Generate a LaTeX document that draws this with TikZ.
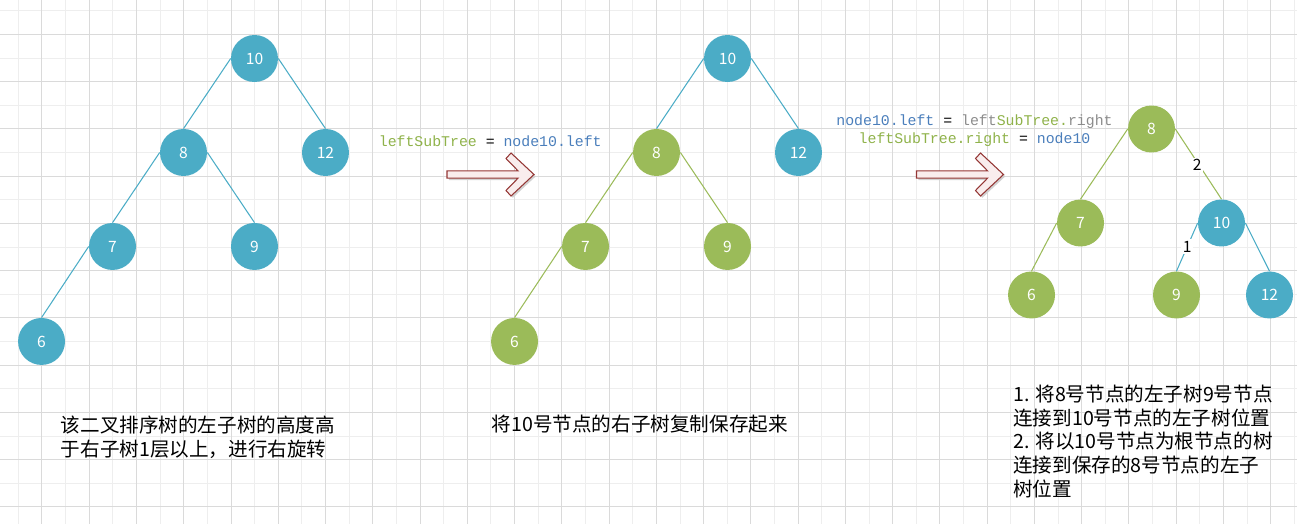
\documentclass[tikz,border=0pt]{standalone}
\usepackage{fontspec}
\setmainfont{Liberation Serif}
\newfontfamily\cjk{Noto Sans CJK SC}
\newfontfamily\codefont{Liberation Mono}
\usetikzlibrary{positioning}

\definecolor{nodeblue}{HTML}{4BACC6}
\definecolor{nodegreen}{HTML}{9BBB59}
\definecolor{codegreen}{HTML}{8FB24A}
\definecolor{codeblue}{HTML}{4A7EBB}
\definecolor{codegray}{HTML}{8C8C8C}
\definecolor{gridminor}{HTML}{EEEEEE}
\definecolor{gridmajor}{HTML}{DADADA}
\definecolor{arrowline}{HTML}{943634}
\definecolor{arrowfill}{HTML}{F9EDED}

\begin{document}
\begin{tikzpicture}[
		x=0.02cm, y=-0.02cm,
		on grid,
		treenode/.style={
			circle,
			minimum size=0.94cm,
			inner sep=0pt,
			text=white,
			font=\cjk\fontsize{8.9}{10}\selectfont
		},
		bnode/.style={treenode, fill=nodeblue},
		gnode/.style={treenode, fill=nodegreen},
		bline/.style={draw=nodeblue, line width=0.6pt},
		gline/.style={draw=nodegreen, line width=0.6pt},
		code/.style={inner sep=0pt, font=\codefont\fontsize{8.45}{10.4}\selectfont},
		note/.style={inner sep=0pt, align=left, font=\cjk\fontsize{11.15}{13.4}\selectfont},
		lbl/.style={inner sep=1pt, fill=white, font=\cjk\fontsize{8.9}{10}\selectfont},
		blockarrow/.style={draw=arrowline, fill=arrowfill, line width=0.6pt, line join=miter}
		]
		
		\useasboundingbox (0,0) rectangle (1297,524);
		
		%--------------------------------------------------
		% Grid
		%--------------------------------------------------
		
		\foreach \k in {0,2,...,54}
			\draw[gridminor, line width=0.5pt] ({18.3+23.63*\k},0) -- ({18.3+23.63*\k},524);
		\foreach \k in {0,2,...,20}
			\draw[gridminor, line width=0.5pt] (0,{10.7+23.63*\k}) -- (1297,{10.7+23.63*\k});
		\foreach \k in {1,3,...,53}
			\draw[gridmajor, line width=0.5pt] ({18.3+23.63*\k},0) -- ({18.3+23.63*\k},524);
		\foreach \k in {1,3,...,21}
			\draw[gridmajor, line width=0.5pt] (0,{10.7+23.63*\k}) -- (1297,{10.7+23.63*\k});
		
		%--------------------------------------------------
		% Tree 1
		%--------------------------------------------------
		
		\node[bnode] (a10) at (254.5,58.5) {10};
		\node[bnode] (a8) [below left=1.88cm and 1.42cm of a10] {8};
		\node[bnode] (a12) [below right=1.88cm and 1.42cm of a10] {12};
		\node[bnode] (a7) [below left=1.88cm and 1.42cm of a8] {7};
		\node[bnode] (a9) [below right=1.88cm and 1.42cm of a8] {9};
		\node[bnode] (a6) [below left=1.9cm and 1.42cm of a7] {6};
		
		\draw[bline] (a10.west) -- (a8.north);
		\draw[bline] (a10.east) -- (a12.north);
		\draw[bline] (a8.west) -- (a7.north);
		\draw[bline] (a8.east) -- (a9.north);
		\draw[bline] (a7.west) -- (a6.north);
		
		%--------------------------------------------------
		% Tree 2
		%--------------------------------------------------
		
		\node[bnode] (b10) at (727.5,58.5) {10};
		\node[gnode] (b8) [below left=1.88cm and 1.42cm of b10] {8};
		\node[bnode] (b12) [below right=1.88cm and 1.42cm of b10] {12};
		\node[gnode] (b7) [below left=1.88cm and 1.42cm of b8] {7};
		\node[gnode] (b9) [below right=1.88cm and 1.42cm of b8] {9};
		\node[gnode] (b6) [below left=1.9cm and 1.42cm of b7] {6};
		
		\draw[bline] (b10.west) -- (b8.north);
		\draw[bline] (b10.east) -- (b12.north);
		\draw[gline] (b8.west) -- (b7.north);
		\draw[gline] (b8.east) -- (b9.north);
		\draw[gline] (b7.west) -- (b6.north);
		
		%--------------------------------------------------
		% Tree 3
		%--------------------------------------------------
		
		\node[gnode] (c8) at (1151.5,129) {8};
		\node[gnode] (c7) [below left=1.88cm and 1.42cm of c8] {7};
		\node[bnode] (c10) [below right=1.88cm and 1.4cm of c8] {10};
		\node[gnode] (c6) [below left=1.44cm and 0.98cm of c7] {6};
		\node[gnode] (c9) [below left=1.44cm and 0.9cm of c10] {9};
		\node[bnode] (c12) [below right=1.44cm and 0.96cm of c10] {12};
		
		\draw[gline] (c8.west) -- (c7.north);
		\draw[gline] (c8.east) -- (c10.north);
		\draw[gline] (c7.west) -- (c6.north);
		\draw[bline] (c10.west) -- (c9.north);
		\draw[bline] (c10.east) -- (c12.north);
		
		\node[lbl] (step2) at (1197.3,165) {2};
		\node[lbl] (step1) at (1187.3,246.7) {1};
		
		%--------------------------------------------------
		% Arrows
		%--------------------------------------------------
		
		\foreach \ax in {447,916.5} {
			\fill[black!18, shift={(\ax+1.8,176.3)}]
				(0,-3.7) -- (71,-3.7) -- (59,-16) -- (64,-21.5) -- (87,0)
				-- (64,21.5) -- (59,16) -- (71,3.7) -- (0,3.7) -- cycle;
			\filldraw[blockarrow, shift={(\ax,174.5)}]
				(0,-3.7) -- (71,-3.7) -- (59,-16) -- (64,-21.5) -- (87,0)
				-- (64,21.5) -- (59,16) -- (71,3.7) -- (0,3.7) -- cycle;
		}
		
		%--------------------------------------------------
		% Code
		%--------------------------------------------------
		
		\node[code, anchor=west] (copy) at (378.5,141.5)
		{\textcolor{codegreen}{leftSubTree} = \textcolor{codeblue}{node10.left}};
		
		\node[code, align=center] (rotate) at (974.5,131)
		{\textcolor{codeblue}{node10.left} = \textcolor{codegray}{left}\textcolor{codegreen}{SubTree.}\textcolor{codegray}{right}\\
		\textcolor{codegreen}{leftSubTree.right} = \textcolor{codeblue}{node10}};
		
		%--------------------------------------------------
		% Notes
		%--------------------------------------------------
		
		\node[note, anchor=north west] (note1) at (60.5,416)
		{该二叉排序树的左子树的高度高\\于右子树1层以上，进行右旋转};
		
		\node[note, anchor=north west] (note2) at (491.5,415)
		{将10号节点的右子树复制保存起来};
		
		\node[note, anchor=north west] (note3) at (1013,385)
		{1. 将8号节点的左子树9号节点\\连接到10号节点的左子树位置\\2. 将以10号节点为根节点的树\\连接到保存的8号节点的左子\\树位置};
		
	\end{tikzpicture}
\end{document}
